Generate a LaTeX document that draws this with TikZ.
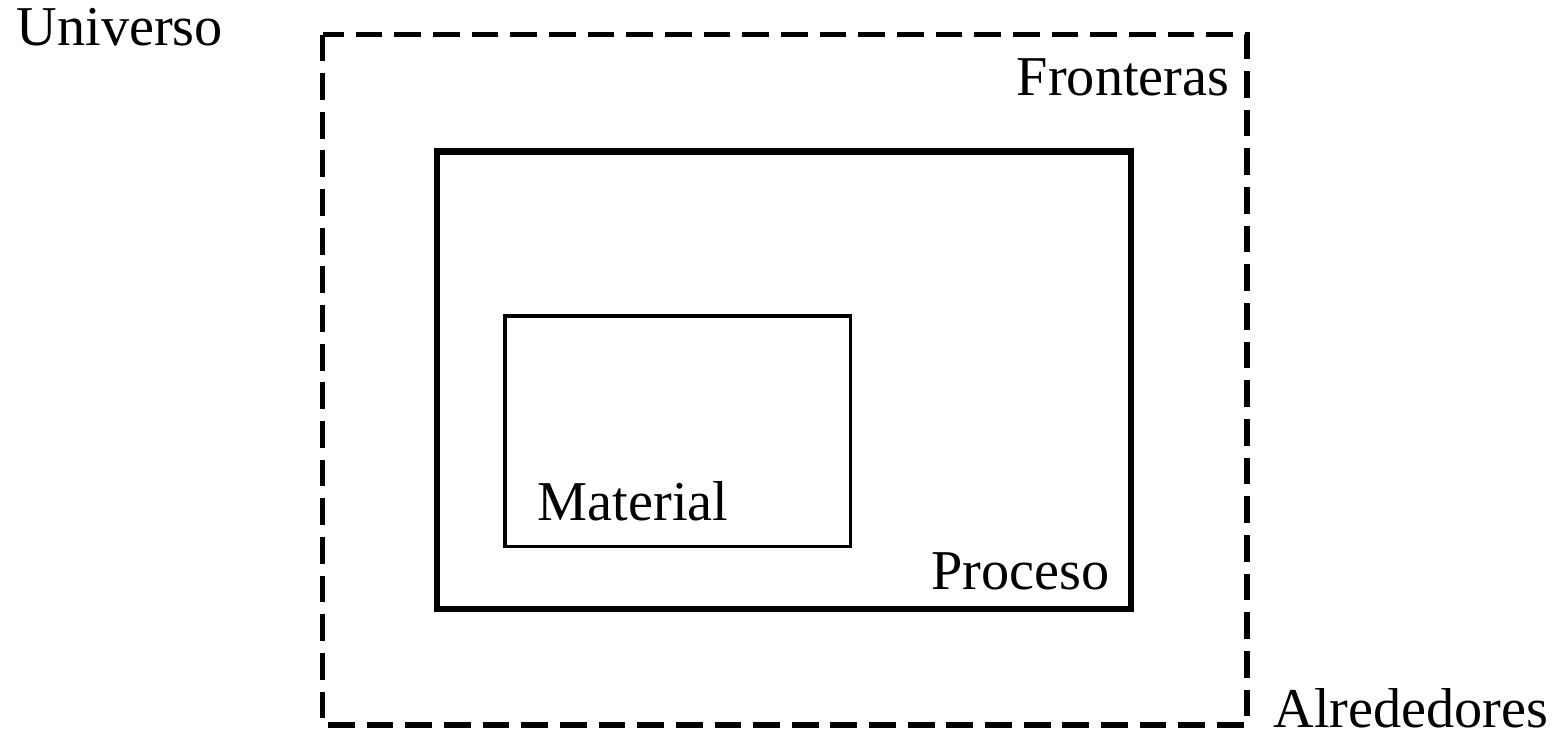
\documentclass[tikz,border=0pt]{standalone}
\usepackage{fontspec}
\setmainfont{Liberation Serif}
\usepackage{tikz}
\newcommand{\labelSize}[0]{\fontsize{16}{19}\selectfont}

\begin{document}
\begin{tikzpicture}
  \tikzset{boundary/.style={line width=1.6pt,dash pattern=on 7.6pt off 3.4pt},
    processbox/.style={line width=1.8pt},
    materialbox/.style={line width=0.9pt},
    tag/.style={inner sep=0pt,font=\labelSize}}
  \useasboundingbox (0,0) rectangle (15.6,7.35);
  % corners of the boxes
  \coordinate (universeNW) at (3.225,7.005);
  \coordinate (universeSE) at (12.47,0.10);
  \coordinate (processNW) at (4.37,5.835);
  \coordinate (processSE) at (11.31,1.26);
  \coordinate (materialNW) at (5.05,4.19);
  \coordinate (materialSE) at (8.505,1.885);
  \draw[boundary] (universeNW) rectangle (universeSE);
  \draw[processbox] (processNW) rectangle (processSE);
  \draw[materialbox] (materialNW) rectangle (materialSE);
  % labels
  \node[tag,anchor=base west] (universo) at (0.16,6.90) {Universo};
  \node[tag,anchor=base east] (fronteras) at (12.30,6.40) {Fronteras};
  \node[tag,anchor=base east] (proceso) at (11.10,1.46) {Proceso};
  \node[tag,anchor=base west] (material) at (5.37,2.15) {Material};
  \node[tag,anchor=base west] (alrededores) at (12.73,0.08) {Alrededores};
\end{tikzpicture}
\end{document}
